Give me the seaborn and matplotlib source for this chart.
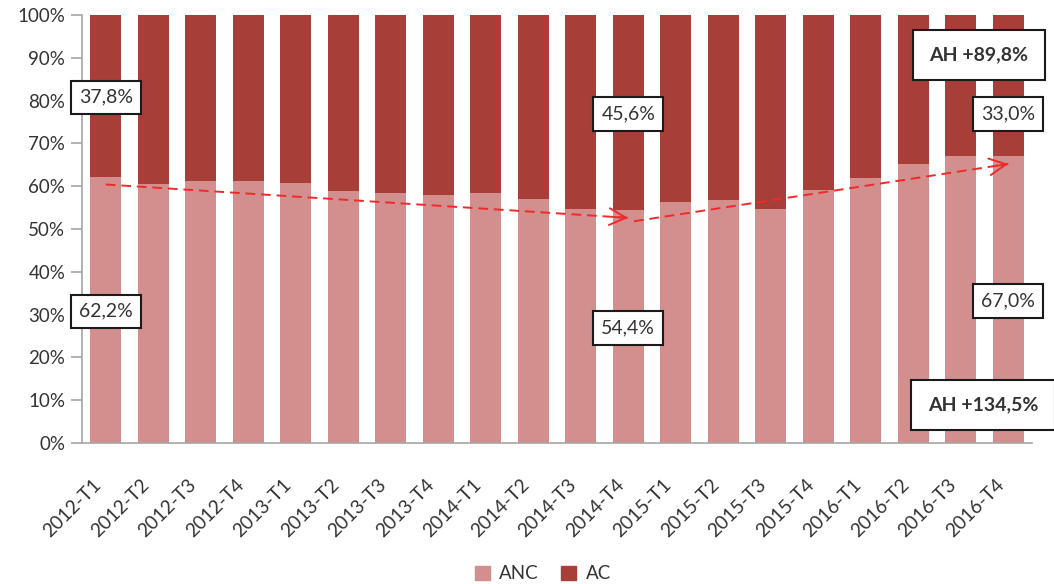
import matplotlib
matplotlib.use("Agg")
import matplotlib.pyplot as plt
from matplotlib.patches import Patch
from matplotlib.ticker import PercentFormatter
from matplotlib.transforms import ScaledTranslation
import seaborn as sns
import pandas as pd

# Quarterly split between ANC and AC (share of total, %)
quarters = ["2012-T1", "2012-T2", "2012-T3", "2012-T4",
            "2013-T1", "2013-T2", "2013-T3", "2013-T4",
            "2014-T1", "2014-T2", "2014-T3", "2014-T4",
            "2015-T1", "2015-T2", "2015-T3", "2015-T4",
            "2016-T1", "2016-T2", "2016-T3", "2016-T4"]
anc = [62.2, 60.5, 61.3, 61.3, 60.8, 58.9, 58.5, 58.0, 58.5, 56.9,
       54.6, 54.4, 56.4, 56.8, 54.6, 59.2, 62.0, 65.2, 67.1, 67.0]
ac = [round(100 - v, 1) for v in anc]

# Growth call-outs
growth_ac = "AH +89,8%"
growth_anc = "AH +134,5%"

ANC_COLOR = "#d28f8e"
AC_COLOR = "#a83e38"
TEXT_COLOR = "#333333"
AXIS_COLOR = "#a6a6a6"

sns.set_theme(style="white")
plt.rcParams["font.family"] = ["Lato", "DejaVu Sans"]

df = pd.DataFrame({"quarter": quarters, "ANC": anc, "AC": ac})
df["total"] = df["ANC"] + df["AC"]

fig = plt.figure(figsize=(10.54, 5.84), dpi=100)
ax = fig.add_axes([82 / 1054, 1 - 443 / 584, (1032 - 82) / 1054, (443 - 15) / 584])

# Stacked bars: full height in AC colour, ANC share drawn on top from the base
sns.barplot(data=df, x="quarter", y="total", color=AC_COLOR, saturation=1,
            width=0.65, ax=ax, linewidth=0)
sns.barplot(data=df, x="quarter", y="ANC", color=ANC_COLOR, saturation=1,
            width=0.65, ax=ax, linewidth=0)

ax.set_xlim(-0.5, len(quarters) - 0.5)
ax.set_ylim(0, 100)
ax.set_yticks(range(0, 101, 10))
ax.yaxis.set_major_formatter(PercentFormatter(decimals=0))
ax.set_xlabel("")
ax.set_ylabel("")

for side in ("top", "right"):
    ax.spines[side].set_visible(False)
for side in ("left", "bottom"):
    ax.spines[side].set_color(AXIS_COLOR)
    ax.spines[side].set_linewidth(1.2)

ax.tick_params(axis="y", which="both", left=True, length=8, width=1.2,
               color=AXIS_COLOR, labelsize=13.5, labelcolor=TEXT_COLOR, pad=4)
ax.tick_params(axis="x", length=0, labelsize=13.8, labelcolor=TEXT_COLOR, pad=28)
shift = ScaledTranslation(-0.07, 0, fig.dpi_scale_trans)
for lbl in ax.get_xticklabels():
    lbl.set_rotation(45)
    lbl.set_ha("right")
    lbl.set_va("center")
    lbl.set_rotation_mode("anchor")
    lbl.set_transform(lbl.get_transform() + shift)

# Value boxes on selected quarters
box_small = dict(boxstyle="square,pad=0.42", fc="white", ec="#1a1a1a", lw=1.5)
box_big = dict(boxstyle="square,pad=0.85", fc="white", ec="#1a1a1a", lw=1.5)


def pct(v):
    return f"{v:.1f}%".replace(".", ",")


for i, y_anc, y_ac in [(0, 30.8, 80.8), (11, 26.9, 76.9), (19, 33.2, 76.9)]:
    ax.text(i, y_anc, pct(anc[i]), ha="center", va="center", fontsize=14,
            color=TEXT_COLOR, bbox=box_small, zorder=5)
    ax.text(i, y_ac, pct(ac[i]), ha="center", va="center", fontsize=14,
            color=TEXT_COLOR, bbox=box_small, zorder=5)

ax.text(18.38, 90.6, growth_ac, ha="center", va="center", fontsize=14,
        fontweight="bold", color=TEXT_COLOR, bbox=box_big, zorder=5)
ax.text(18.47, 8.9, growth_anc, ha="center", va="center", fontsize=14,
        fontweight="bold", color=TEXT_COLOR, bbox=box_big, zorder=5, clip_on=False)

# Dashed trend arrows for the ANC share
TREND = "#ee2a2a"
off = 1.8
segments = [(0, 11), (11, 19)]
for a, b in segments:
    xs = [a + (0.12 if a else 0), b]
    ys = [anc[a] - off - (0.8 if a else 0), anc[b] - off]
    ax.plot(xs, ys, ls=(0, (5, 3)), color=TREND, lw=1.4, zorder=4)
    dx, dy = xs[1] - xs[0], ys[1] - ys[0]
    ax.annotate("", xy=(xs[1], ys[1]), xytext=(xs[1] - dx * 0.03, ys[1] - dy * 0.03),
                arrowprops=dict(arrowstyle="->,head_length=1.0,head_width=0.5",
                                color=TREND, lw=1.4, shrinkA=0, shrinkB=0),
                zorder=4)

handles = [Patch(color=ANC_COLOR, label="ANC"), Patch(color=AC_COLOR, label="AC")]
fig.legend(handles=handles, loc="lower center", bbox_to_anchor=(0.515, -0.026),
           ncol=2, frameon=False, fontsize=13.5, handlelength=0.8, handleheight=0.8,
           handletextpad=0.5, columnspacing=1.2, labelcolor=TEXT_COLOR)

fig.savefig("out.png", dpi=100)
